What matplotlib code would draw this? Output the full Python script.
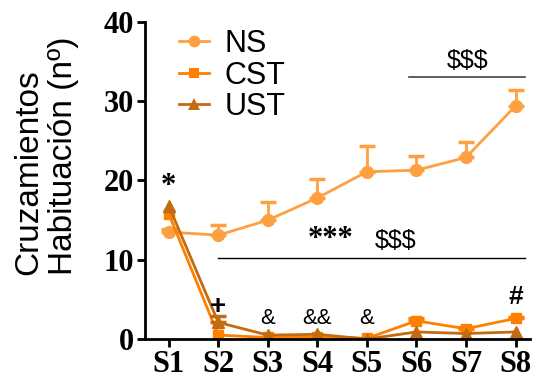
import matplotlib
matplotlib.use("Agg")
import matplotlib.pyplot as plt
from matplotlib.lines import Line2D
import numpy as np

sessions = ["S1", "S2", "S3", "S4", "S5", "S6", "S7", "S8"]
ns_mean = [13.5, 13.1, 15.0, 17.8, 21.1, 21.3, 22.9, 29.4]
ns_err = [0.4, 1.3, 2.3, 2.4, 3.2, 1.8, 2.0, 2.0]
cst_mean = [15.8, 0.5, 0.2, 0.3, 0.1, 2.3, 1.3, 2.6]
cst_err = [0.0, 0.0, 0.0, 0.0, 0.0, 0.3, 0.2, 0.2]
ust_mean = [16.8, 2.1, 0.5, 0.6, 0.0, 0.9, 0.7, 0.9]
ust_err = [0.0, 0.8, 0.0, 0.0, 0.0, 0.0, 0.0, 0.0]
series_names = ["NS", "CST", "UST"]

x = np.arange(1, len(sessions) + 1)

fig = plt.figure(figsize=(5.39, 3.84), dpi=100)
ax = fig.add_axes([0.269, 0.117, 0.715, 0.826])

c_ns = "#FFA040"
c_cst = "#FF8000"
c_ust = "#C46A10"
styles = [
    (ns_mean, ns_err, c_ns, "o", 8.5),
    (cst_mean, cst_err, c_cst, "s", 7.5),
    (ust_mean, ust_err, c_ust, "^", 8),
]
handles = []
for (mean, err, col, mk, ms), name in zip(styles, series_names):
    mean = np.asarray(mean)
    err = np.asarray(err)
    sel = err > 0
    if sel.any():
        ax.errorbar(x[sel], mean[sel], yerr=[np.zeros(sel.sum()), err[sel]], fmt="none",
                    ecolor=col, elinewidth=2, capsize=6, capthick=2.5)
    ax.plot(x, mean, color=col, marker=mk, markersize=ms, linewidth=2,
            markeredgecolor=col)
    handles.append(Line2D([], [], color=col, marker=mk, markersize=ms, linewidth=2,
                          markeredgewidth=0, label=name))

ax.set_xlim(0.52, 8.3)
ax.set_ylim(0, 40)
ax.set_yticks([0, 10, 20, 30, 40])
ax.set_xticks(x)
ax.set_xticklabels(sessions)
for lab in ax.get_xticklabels() + ax.get_yticklabels():
    lab.set_fontfamily("Liberation Serif")
    lab.set_fontweight("bold")
    lab.set_fontsize(22)
ax.spines["top"].set_visible(False)
ax.spines["right"].set_visible(False)
ax.spines["left"].set_linewidth(2)
ax.spines["bottom"].set_linewidth(2)
ax.tick_params(width=2, length=6, pad=2)

fig.text(46 / 539, 1 - 156 / 384, "Cruzamientos\nHabituación (nº)", rotation=90,
         ha="center", va="center", multialignment="left", fontsize=24,
         fontfamily="Liberation Sans", linespacing=1.15)

leg = ax.legend(handles=handles, loc="upper left", bbox_to_anchor=(0.04, 1.035),
                frameon=False, fontsize=22, handlelength=1.0, handletextpad=0.5,
                labelspacing=0.05, borderaxespad=0.2)
for t in leg.get_texts():
    t.set_fontfamily("Liberation Sans")

# significance annotations
ax.plot([5.85, 8.2], [33.0, 33.0], color="#444444", linewidth=1.2)
ax.text(7.03, 33.5, "$$$", ha="center", va="bottom", fontsize=18, fontfamily="Liberation Sans")
ax.plot([2, 8.2], [10.2, 10.2], color="black", linewidth=1)
ax.text(4.27, 10.7, "***", ha="center", va="bottom", fontsize=22, fontweight="bold",
        fontfamily="Liberation Serif")
ax.text(5.57, 10.8, "$$$", ha="center", va="bottom", fontsize=18, fontfamily="Liberation Sans")
ax.text(1, 17.4, "*", ha="center", va="bottom", fontsize=22, fontweight="bold",
        fontfamily="Liberation Serif")
ax.text(2, 2.4, "+", ha="center", va="bottom", fontsize=20, fontweight="bold",
        fontfamily="Liberation Sans")
ax.text(3, 1.3, "&", ha="center", va="bottom", fontsize=16, fontfamily="Liberation Sans")
ax.text(4, 1.3, "&&", ha="center", va="bottom", fontsize=16, fontfamily="Liberation Sans")
ax.text(5, 1.3, "&", ha="center", va="bottom", fontsize=16, fontfamily="Liberation Sans")
ax.text(8, 3.8, "#", ha="center", va="bottom", fontsize=19, fontweight="bold",
        fontfamily="Liberation Sans")

fig.savefig("out.png", dpi=100)
